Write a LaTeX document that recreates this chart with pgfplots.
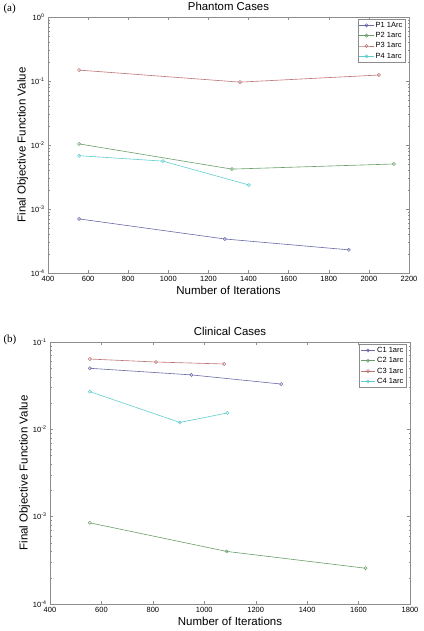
\documentclass[border=0pt]{standalone}
\usepackage{pgfplots}
\pgfplotsset{compat=1.18}
\usepackage{fontspec}
\setmainfont{Liberation Sans}
\newfontfamily\serifff{Liberation Serif}
\definecolor{cA}{RGB}{105,105,170}
\definecolor{cB}{RGB}{105,158,105}
\definecolor{cC}{RGB}{190,115,115}
\definecolor{cD}{RGB}{95,205,205}
\definecolor{axg}{RGB}{140,140,140}
\pgfplotsset{
  myax/.style={
    scale only axis,
    axis line style={axg},
    tick style={axg, thin},
    every tick label/.style={font=\fontsize{7.5}{8}\selectfont},
    minor tick length=1.5pt,
    major tick length=3pt,
    tick align=inside,
    xlabel={Number of Iterations},
    ylabel={Final Objective Function Value},
    label style={font=\fontsize{11.5}{12}\selectfont},
    title style={font=\fontsize{11.4}{12}\selectfont, yshift=-3pt},
    xlabel style={yshift=3pt},
    ylabel style={yshift=-4pt},
    /pgf/number format/assume math mode=true,
    /pgf/number format/1000 sep={},
    legend style={font=\fontsize{7.5}{8}\selectfont, draw=axg, at={(0.99,0.992)}, anchor=north east, inner sep=1pt, row sep=0pt, nodes={inner sep=1.8pt}},
    legend image code/.code={\draw[mark repeat=2,mark phase=2] plot coordinates {(0cm,0cm) (0.25cm,0cm) (0.5cm,0cm)};},
    legend cell align=left,
    every axis plot/.append style={line width=0.6pt, mark=o, mark size=1.6pt, mark options={line width=0.5pt}},
  }
}
\begin{document}
\begin{tikzpicture}
\useasboundingbox (0pt,0pt) rectangle (423pt,631pt);
\node[anchor=west, font=\serifff\fontsize{11}{12}\selectfont] at (0pt,622pt) {(a)};
\node[anchor=west, font=\serifff\fontsize{11}{12}\selectfont] at (0pt,291pt) {(b)};
\begin{semilogyaxis}[myax,
  at={(48pt,358pt)}, anchor=south west,
  width=361pt, height=256pt,
  xmin=400, xmax=2200, ymin=1e-4, ymax=1,
  xtick={400,600,...,2200},
  ytick={1e-4,1e-3,1e-2,1e-1,1},
  yticklabels={10\textsuperscript{-4},10\textsuperscript{-3},10\textsuperscript{-2},10\textsuperscript{-1},10\textsuperscript{0}},
  title={Phantom Cases},
]
\addplot[cA] coordinates {(555,0.00070) (1282,0.00034) (1900,0.00023)};
\addplot[cB] coordinates {(555,0.0104) (1317,0.0042) (2125,0.00505)};
\addplot[cC] coordinates {(555,0.148) (1357,0.096) (2050,0.124)};
\addplot[cD] coordinates {(555,0.0068) (973,0.0056) (1402,0.00237)};
\legend{P1 1Arc, P2 1arc, P3 1arc, P4 1arc}
\end{semilogyaxis}
\begin{semilogyaxis}[myax,
  at={(50pt,27pt)}, anchor=south west,
  width=360pt, height=262pt,
  xmin=400, xmax=1800, ymin=1e-4, ymax=1e-1,
  xtick={400,600,...,1800},
  ytick={1e-4,1e-3,1e-2,1e-1},
  yticklabels={10\textsuperscript{-4},10\textsuperscript{-3},10\textsuperscript{-2},10\textsuperscript{-1}},
  title={Clinical Cases},
]
\addplot[cA] coordinates {(555,0.050) (950,0.042) (1299,0.033)};
\addplot[cB] coordinates {(555,0.00085) (1087,0.00040) (1627,0.000257)};
\addplot[cC] coordinates {(555,0.0638) (812,0.059) (1077,0.056)};
\addplot[cD] coordinates {(555,0.027) (905,0.012) (1090,0.0154)};
\legend{C1 1arc, C2 1arc, C3 1arc, C4 1arc}
\end{semilogyaxis}
\end{tikzpicture}
\end{document}
